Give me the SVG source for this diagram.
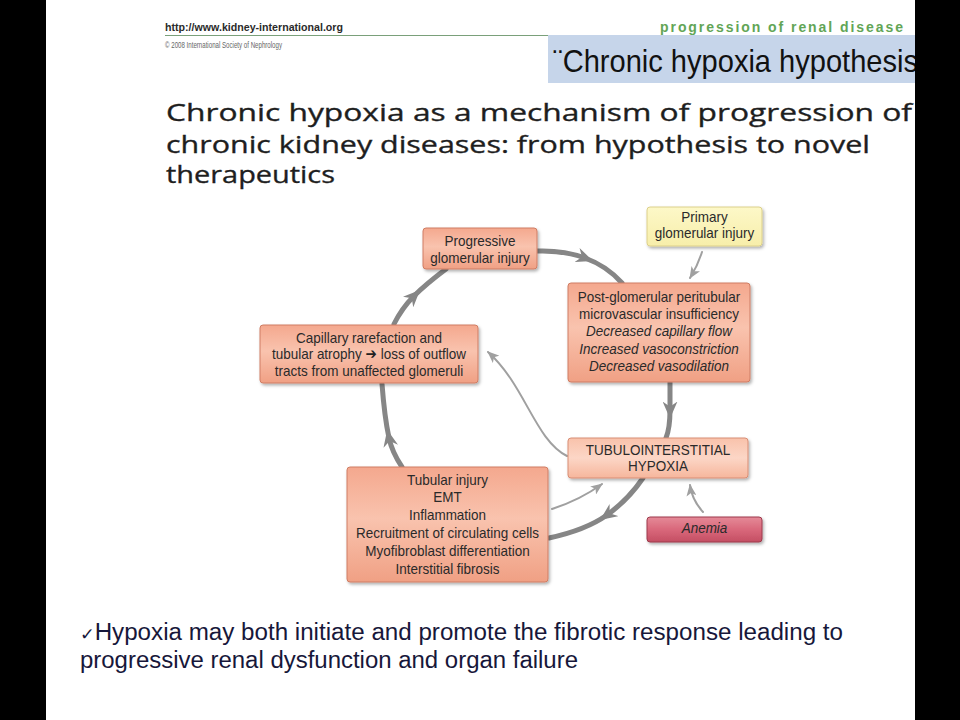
<svg xmlns="http://www.w3.org/2000/svg" width="960" height="720" viewBox="0 0 960 720">
<style>
.nt{font-family:"Liberation Sans",Arial,sans-serif;font-size:15px;fill:#2a2a2a;text-anchor:middle}
.it{font-style:italic}
.thick{fill:none;stroke:#868686;stroke-width:5;stroke-linecap:round}
.thin{fill:none;stroke:#a0a0a0;stroke-width:2;stroke-linecap:round}
.box{stroke:#cf7d64;stroke-width:1}
</style>
<defs>
<linearGradient id="gs" x1="0" y1="0" x2="0" y2="1">
<stop offset="0" stop-color="#f4a88e"/><stop offset="0.45" stop-color="#f9c3ae"/><stop offset="1" stop-color="#f0a084"/>
</linearGradient>
<linearGradient id="gl" x1="0" y1="0" x2="0" y2="1">
<stop offset="0" stop-color="#f9c2ab"/><stop offset="0.5" stop-color="#fcd6c6"/><stop offset="1" stop-color="#f6b69c"/>
</linearGradient>
<linearGradient id="gy" x1="0" y1="0" x2="0" y2="1">
<stop offset="0" stop-color="#fdf8c8"/><stop offset="1" stop-color="#f7eeaa"/>
</linearGradient>
<linearGradient id="ga" x1="0" y1="0" x2="0" y2="1">
<stop offset="0" stop-color="#e58a98"/><stop offset="0.5" stop-color="#d9687b"/><stop offset="1" stop-color="#c44e63"/>
</linearGradient>
<filter id="sh" x="-10%" y="-10%" width="130%" height="150%">
<feDropShadow dx="1.5" dy="2" stdDeviation="1.5" flood-color="#000" flood-opacity="0.3"/>
</filter>
<marker id="mk" markerUnits="userSpaceOnUse" viewBox="0 0 16 14" markerWidth="17" markerHeight="15" refX="8" refY="7" orient="auto">
<path d="M0,0 L16,7 L0,14 L5,7 z" fill="#868686"/>
</marker>
<marker id="mt" markerUnits="userSpaceOnUse" viewBox="0 0 12 10" markerWidth="12" markerHeight="10" refX="11" refY="5" orient="auto">
<path d="M0,0 L12,5 L0,10 L3,5 z" fill="#a0a0a0"/>
</marker>
</defs>
<rect x="0" y="0" width="960" height="720" fill="#ffffff"/>

<g id="header">
<line x1="165" y1="35.5" x2="560" y2="35.5" stroke="#7aa07a" stroke-width="1"/>
<text x="165" y="30.5" font-family="Liberation Sans,Arial,sans-serif" font-size="10" font-weight="bold" fill="#2a2a2a" textLength="178" lengthAdjust="spacingAndGlyphs">http://www.kidney-international.org</text>
<text x="165" y="47.5" font-family="Liberation Sans,Arial,sans-serif" font-size="9.5" fill="#666" textLength="117" lengthAdjust="spacingAndGlyphs">© 2008 International Society of Nephrology</text>
<text x="660" y="31.5" font-family="Liberation Sans,Arial,sans-serif" font-size="14" font-weight="bold" fill="#62a556" textLength="243" lengthAdjust="spacing">progression of renal disease</text>
<rect x="548" y="35" width="370" height="48" fill="#c6d5ea"/>
<text x="553" y="72" font-family="Liberation Sans,Arial,sans-serif" font-size="32" fill="#111" textLength="365" lengthAdjust="spacingAndGlyphs">¨Chronic hypoxia hypothesis</text>
</g>

<g id="title" font-family="Open Sans,Liberation Sans,sans-serif" font-size="24.5" fill="#1e1e1e" stroke="#1e1e1e" stroke-width="0.35">
<text x="166" y="121" textLength="746" lengthAdjust="spacingAndGlyphs">Chronic hypoxia as a mechanism of progression of</text>
<text x="166" y="153" textLength="704" lengthAdjust="spacingAndGlyphs">chronic kidney diseases: from hypothesis to novel</text>
<text x="166" y="183" textLength="169" lengthAdjust="spacingAndGlyphs">therapeutics</text>
</g>

<g id="connectors">
<path class="thick" marker-mid="url(#mk)" d="M537 251 Q563 250 585 258 Q607 266 622 283"/>
<path class="thick" marker-mid="url(#mk)" d="M670 382 L670 410 Q670 428 666 438"/>
<path class="thick" marker-mid="url(#mk)" d="M643 478 Q628 500 607 515 Q586 530 549 538"/>
<path class="thick" marker-mid="url(#mk)" d="M402 467 Q392 452 389 438 Q384.5 417 382 384"/>
<path class="thick" marker-mid="url(#mk)" d="M394 324 Q402 308 414 296 Q426 284 446 269"/>
<path class="thin" marker-end="url(#mt)" d="M702 252 Q698 265 690 278"/>
<path class="thin" marker-end="url(#mt)" d="M567 456 C535 440 525 385 488 352"/>
<path class="thin" marker-end="url(#mt)" d="M552 509 Q580 500 602 484"/>
<path class="thin" marker-end="url(#mt)" d="M703 512 Q692 500 690 485"/>
</g>

<g id="progressive">
<rect class="box" x="423" y="228" width="114" height="41" rx="3" fill="url(#gs)" filter="url(#sh)"/>
<g transform="matrix(0.9 0 0 1 480 0)">
<text class="nt" x="0" y="246.5">Progressive</text>
<text class="nt" x="0" y="263">glomerular injury</text>
</g>
</g>

<g id="primary">
<rect x="647" y="207" width="115" height="39" rx="3" fill="url(#gy)" stroke="#dcd08a" filter="url(#sh)"/>
<g transform="matrix(0.9 0 0 1 704.5 0)">
<text class="nt" x="0" y="222">Primary</text>
<text class="nt" x="0" y="238.5">glomerular injury</text>
</g>
</g>

<g id="postglomerular">
<rect class="box" x="568" y="283" width="182" height="99" rx="3" fill="url(#gs)" filter="url(#sh)"/>
<g transform="matrix(0.9 0 0 1 659 0)">
<text class="nt" x="0" y="302">Post-glomerular peritubular</text>
<text class="nt" x="0" y="319">microvascular insufficiency</text>
<text class="nt it" x="0" y="336.5">Decreased capillary flow</text>
<text class="nt it" x="0" y="354">Increased vasoconstriction</text>
<text class="nt it" x="0" y="371.5">Decreased vasodilation</text>
</g>
</g>

<g id="capillary">
<rect class="box" x="260" y="325" width="218" height="58" rx="3" fill="url(#gs)" filter="url(#sh)"/>
<g transform="matrix(0.9 0 0 1 369 0)">
<text class="nt" x="0" y="343">Capillary rarefaction and</text>
<text class="nt" x="0" y="359.5">tubular atrophy <tspan font-family="DejaVu Sans,sans-serif" font-size="15" fill="#222">➔</tspan> loss of outflow</text>
<text class="nt" x="0" y="376">tracts from unaffected glomeruli</text>
</g>
</g>

<g id="hypoxia">
<rect x="568" y="438" width="180" height="40" rx="3" fill="url(#gl)" stroke="#d88d74" filter="url(#sh)"/>
<g transform="matrix(0.9 0 0 1 658 0)">
<text class="nt" x="0" y="455">TUBULOINTERSTITIAL</text>
<text class="nt" x="0" y="471">HYPOXIA</text>
</g>
</g>

<g id="tubular">
<rect class="box" x="347" y="467" width="201" height="115" rx="3" fill="url(#gs)" filter="url(#sh)"/>
<g transform="matrix(0.9 0 0 1 447.5 0)">
<text class="nt" x="0" y="485">Tubular injury</text>
<text class="nt" x="0" y="502.5">EMT</text>
<text class="nt" x="0" y="520">Inflammation</text>
<text class="nt" x="0" y="538">Recruitment of circulating cells</text>
<text class="nt" x="0" y="556">Myofibroblast differentiation</text>
<text class="nt" x="0" y="574">Interstitial fibrosis</text>
</g>
</g>

<g id="anemia">
<rect x="647" y="517" width="115" height="25" rx="3" fill="url(#ga)" stroke="#9c3a4c" filter="url(#sh)"/>
<g transform="matrix(0.9 0 0 1 704.5 0)">
<text class="nt it" x="0" y="533">Anemia</text>
</g>
</g>

<g id="bottom" font-family="Liberation Sans,Arial,sans-serif" font-size="23.5" fill="#17173a">
<text x="80" y="640" textLength="763" lengthAdjust="spacingAndGlyphs"><tspan font-size="17" font-family="DejaVu Sans,sans-serif">✓</tspan>Hypoxia may both initiate and promote the fibrotic response leading to</text>
<text x="80" y="668" textLength="498" lengthAdjust="spacingAndGlyphs">progressive renal dysfunction and organ failure</text>
</g>

<rect x="0" y="0" width="46" height="720" fill="#000"/>
<rect x="915" y="0" width="45" height="720" fill="#000"/>
</svg>
